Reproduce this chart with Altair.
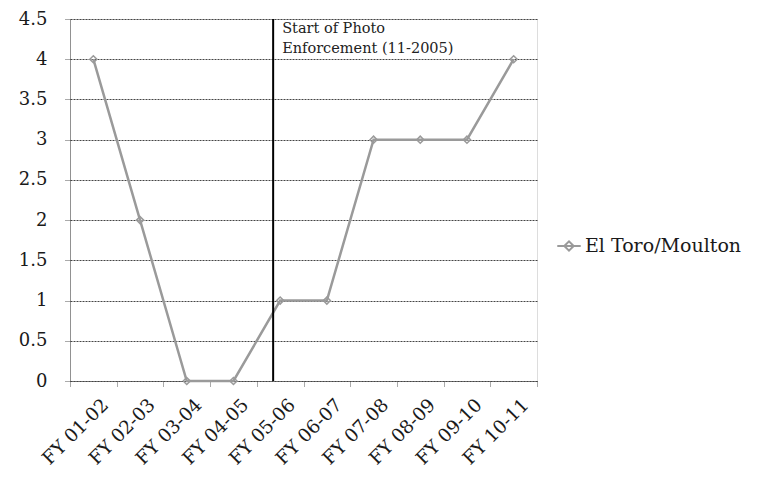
import altair as alt
import pandas as pd

categories = ["FY 01-02", "FY 02-03", "FY 03-04", "FY 04-05", "FY 05-06",
              "FY 06-07", "FY 07-08", "FY 08-09", "FY 09-10", "FY 10-11"]
values = [4, 2, 0, 0, 1, 1, 3, 3, 3, 4]
series_name = "El Toro/Moulton"
y_ticks = [0, 0.5, 1, 1.5, 2, 2.5, 3, 3.5, 4, 4.5]
event_category = "FY 05-06"
event_label = ["Start of Photo", "Enforcement (11-2005)"]

df = pd.DataFrame({"cat": categories, "val": values, "series": series_name})
ev = pd.DataFrame({"cat": [event_category], "lo": [0], "hi": [4.5]})
lab = pd.DataFrame({"cat": [event_category], "y": [4.5], "text": [event_label]})

FONT = "DejaVu Serif"
TXT = "#1a1a1a"

xenc = alt.X("cat:N", sort=categories, title=None,
             scale=alt.Scale(type="band", paddingInner=0, paddingOuter=0, domain=categories),
             axis=alt.Axis(labelAngle=-45, labelAlign="right", labelBaseline="top",
                           labelFontSize=18.5, labelFont=FONT, labelColor=TXT,
                           tickBand="extent", ticks=True, tickSize=6, tickColor="#555",
                           tickDash=[1, 1], domainDash=[1, 1], domainColor="#444",
                           grid=False, labelPadding=8, labelOffset=5))

yscale = alt.Scale(domain=[0, 4.5], nice=False)

line = alt.Chart(df).mark_line(
    point=alt.OverlayMarkDef(shape="diamond", size=50, filled=False, strokeWidth=1.5, color="#999"),
    strokeWidth=2.5,
).encode(
    x=xenc,
    y=alt.Y("val:Q", scale=yscale, title=None,
            axis=alt.Axis(values=y_ticks, format="~g", labelFontSize=18, labelFont=FONT,
                          labelColor=TXT,
                          gridDash=[2, 1], gridColor="#444", gridWidth=1,
                          domainDash=[1, 1], domainColor="#444", tickDash=[1, 1],
                          tickColor="#555", tickSize=6, labelPadding=17)),
    color=alt.Color("series:N", scale=alt.Scale(range=["#9a9a9a"]),
                    legend=alt.Legend(title=None, orient="none", legendX=486, legendY=214,
                                      labelFont=FONT, labelFontSize=19, labelColor=TXT,
                                      labelLimit=400,
                                      symbolType="M-1,0L1,0M-0.4,0L0,-0.4L0.4,0L0,0.4Z",
                                      symbolSize=550, symbolStrokeWidth=2, labelOffset=3)),
)

rule = alt.Chart(ev).mark_rule(color="black", strokeWidth=2).encode(
    x=alt.X("cat:N", sort=categories, bandPosition=0.35),
    y=alt.Y("lo:Q", scale=yscale),
    y2="hi:Q",
)

text = alt.Chart(lab).mark_text(align="left", baseline="top", dx=9, dy=3, font=FONT,
                                fontSize=14.5, color="#222", lineHeight=20).encode(
    x=alt.X("cat:N", sort=categories, bandPosition=0.35),
    y=alt.Y("y:Q", scale=yscale),
    text="text",
)

chart = alt.layer(line, rule, text).properties(
    width=467, height=362,
    autosize=alt.AutoSizeParams(type="none"),
    padding={"left": 62, "top": 11, "right": 213, "bottom": 93},
).configure_view(stroke=None).configure(background="white")

chart.save("out.html", embed_options={"renderer": "svg", "actions": False})
